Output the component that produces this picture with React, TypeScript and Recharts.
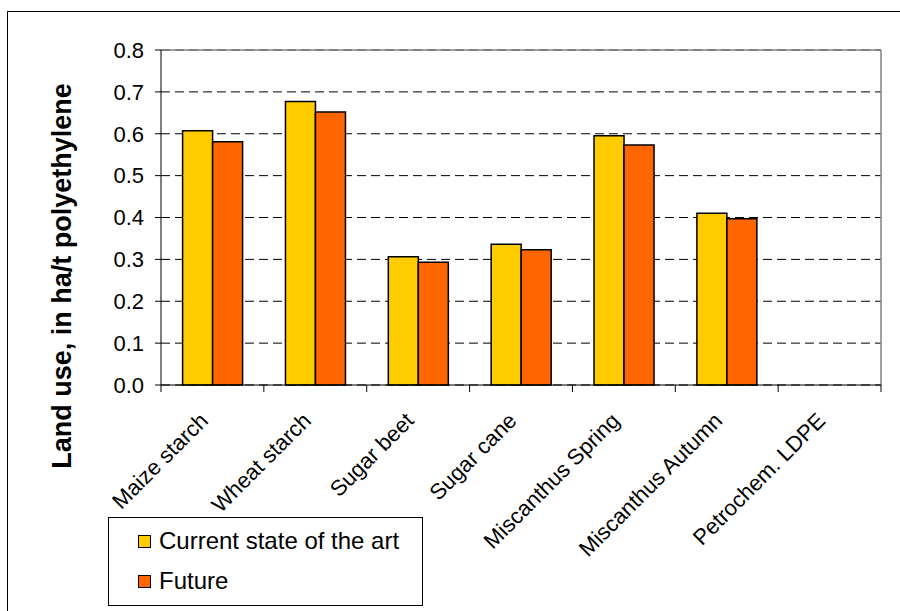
import { BarChart, Bar, XAxis, YAxis, CartesianGrid, ReferenceLine } from "recharts";

const categories = [
  "Maize starch",
  "Wheat starch",
  "Sugar beet",
  "Sugar cane",
  "Miscanthus Spring",
  "Miscanthus Autumn",
  "Petrochem. LDPE",
];
const currentValues = [0.607, 0.677, 0.306, 0.336, 0.595, 0.41, 0];
const futureValues = [0.581, 0.652, 0.293, 0.323, 0.573, 0.397, 0];
const yTicks = [0, 0.1, 0.2, 0.3, 0.4, 0.5, 0.6, 0.7, 0.8];

const seriesNames = ["Current state of the art", "Future"];
const seriesColors = ["#FFCC00", "#FF6600"];

const data = categories.map((name, i) => ({
  name,
  current: currentValues[i],
  future: futureValues[i],
}));

const FONT = "'Liberation Sans', Arial, sans-serif";

// category label rotated -45deg plus tick marks on the band edges
function CategoryTick(props: any) {
  const { x, y, payload, index } = props;
  const half = payload.offset || 0;
  const last = index === categories.length - 1;
  const tx = x - 3;
  const ty = y + 37;
  return (
    <g>
      <line x1={x - half} y1={y} x2={x - half} y2={y + 7} stroke="#000" strokeWidth={1} />
      {last && <line x1={x + half} y1={y} x2={x + half} y2={y + 7} stroke="#000" strokeWidth={1} />}
      <text
        x={tx}
        y={ty}
        textAnchor="end"
        transform={`rotate(-45, ${tx}, ${ty})`}
        fontSize={22}
        fontFamily={FONT}
        fill="#000"
      >
        {payload.value}
      </text>
    </g>
  );
}

export default function App() {
  return (
    <div
      style={{
        position: "absolute",
        left: 0,
        top: 0,
        width: 900,
        height: 611,
        overflow: "hidden",
        background: "#fff",
      }}
    >
      <div
        style={{
          position: "absolute",
          left: 7,
          top: 11,
          width: 920,
          height: 640,
          border: "1.5px solid #000",
        }}
      />
      <div style={{ position: "absolute", left: 0, top: 0 }}>
        <BarChart
          width={900}
          height={611}
          data={data}
          margin={{ top: 50, right: 19, left: 61, bottom: 26 }}
          barCategoryGap="21%"
          barGap={0}
        >
          <CartesianGrid
            horizontal={true}
            vertical={false}
            stroke="#000"
            strokeDasharray="9 5"
          />
          <XAxis
            dataKey="name"
            height={200}
            interval={0}
            tickLine={false}
            tickSize={0}
            tickMargin={0}
            axisLine={{ stroke: "#000", strokeWidth: 1 }}
            tick={<CategoryTick />}
          />
          <YAxis
            width={100}
            domain={[0, 0.8]}
            ticks={yTicks}
            interval={0}
            tickSize={6}
            tickMargin={11}
            tickFormatter={(v: number) => v.toFixed(1)}
            axisLine={{ stroke: "#000", strokeWidth: 1 }}
            tickLine={{ stroke: "#000" }}
            tick={{ fill: "#000", fontSize: 22, fontFamily: FONT }}
            label={{
              content: () => (
                <text
                  x={71}
                  y={276}
                  textAnchor="middle"
                  transform="rotate(-90, 71, 276)"
                  fontSize={27}
                  fontWeight="bold"
                  fontFamily={FONT}
                  fill="#000"
                >
                  Land use, in ha/t polyethylene
                </text>
              ),
            }}
          />
          <ReferenceLine y={0.8} stroke="#808080" strokeWidth={1.5} />
          <ReferenceLine
            x={categories[categories.length - 1]}
            position="end"
            stroke="#808080"
            strokeWidth={1.5}
          />
          <Bar
            dataKey="current"
            name={seriesNames[0]}
            fill={seriesColors[0]}
            stroke="#000"
            strokeWidth={1.5}
            isAnimationActive={false}
          />
          <Bar
            dataKey="future"
            name={seriesNames[1]}
            fill={seriesColors[1]}
            stroke="#000"
            strokeWidth={1.5}
            isAnimationActive={false}
          />
        </BarChart>
      </div>
      <div
        style={{
          position: "absolute",
          left: 108,
          top: 517,
          width: 313,
          height: 87,
          border: "1px solid #000",
          background: "#fff",
          fontFamily: FONT,
          fontSize: 24,
          color: "#000",
        }}
      >
        {seriesNames.map((name, i) => (
          <div
            key={name}
            style={{
              position: "absolute",
              left: 29,
              top: i === 0 ? 10 : 50,
              height: 26,
              display: "flex",
              alignItems: "center",
              whiteSpace: "nowrap",
            }}
          >
            <span
              style={{
                display: "inline-block",
                width: 11,
                height: 11,
                background: seriesColors[i],
                border: "1.5px solid #000",
                marginRight: 8,
              }}
            />
            {name}
          </div>
        ))}
      </div>
    </div>
  );
}
